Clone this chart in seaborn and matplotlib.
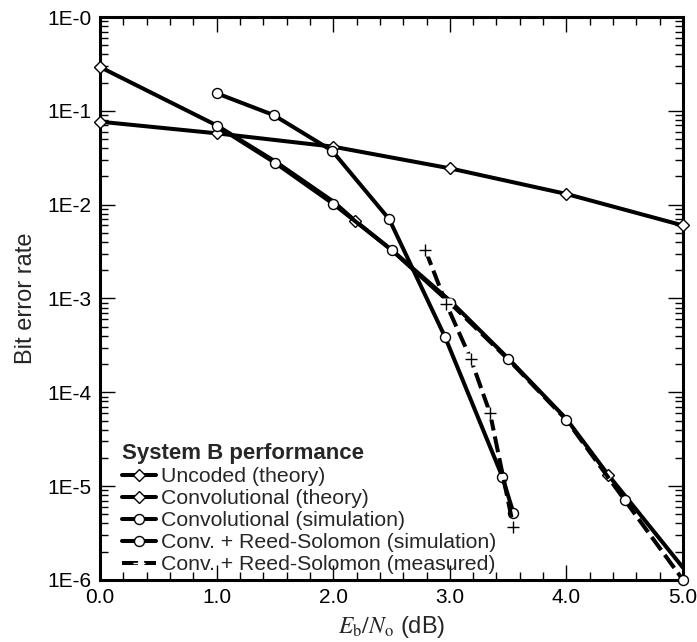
import matplotlib
matplotlib.use("Agg")
import matplotlib.pyplot as plt
import seaborn as sns
from matplotlib.ticker import FixedLocator, FixedFormatter, MultipleLocator, LogLocator, NullFormatter

# Eb/No (dB) and bit error rate for each curve
ebno_uncoded = [0.0, 1.0, 2.0, 3.0, 4.0, 5.0]
ber_uncoded = [0.0766, 0.0576, 0.0415, 0.0244, 0.0130, 0.0060]

ebno_conv_theory = [0.0, 1.0, 1.5, 2.0, 2.19, 2.5, 3.0, 3.5, 4.0, 4.36, 5.0]
ber_conv_theory = [0.293, 0.070, 0.029, 0.0108, 6.7e-3, 3.3e-3, 9.5e-4, 2.3e-4, 5.2e-5, 1.31e-5, 1.35e-6]
conv_theory_marked = [0, 4, 9]

ebno_conv_sim = [1.0, 1.5, 2.0, 2.5, 3.0]
ber_conv_sim = [0.069, 0.028, 0.0102, 3.29e-3, 9.0e-4]
ebno_conv_sim_tail = [3.0, 3.5, 4.0, 4.5, 5.0]
ber_conv_sim_tail = [9.0e-4, 2.25e-4, 5.07e-5, 7.1e-6, 1.0e-6]

ebno_rs_sim = [1.0, 1.49, 1.99, 2.48, 2.96, 3.45, 3.545]
ber_rs_sim = [0.154, 0.090, 0.0376, 7.0e-3, 3.86e-4, 1.26e-5, 5.2e-6]

ebno_rs_meas = [2.79, 2.97, 3.18, 3.345, 3.545]
ber_rs_meas = [3.29e-3, 8.7e-4, 2.26e-4, 5.97e-5, 3.7e-6]

y_ticks = [1e-6, 1e-5, 1e-4, 1e-3, 1e-2, 1e-1, 1e0]
y_tick_labels = ["1E-6", "1E-5", "1E-4", "1E-3", "1E-2", "1E-1", "1E-0"]
x_ticks = [0.0, 1.0, 2.0, 3.0, 4.0, 5.0]
x_tick_labels = ["0.0", "1.0", "2.0", "3.0", "4.0", "5.0"]

legend_title = "System B performance"
labels = ["Uncoded (theory)", "Convolutional (theory)", "Convolutional (simulation)",
          "Conv. + Reed-Solomon (simulation)", "Conv. + Reed-Solomon (measured)"]

sns.set_style("ticks")
plt.rcParams["font.family"] = ["Liberation Sans", "DejaVu Sans"]
plt.rcParams["mathtext.fontset"] = "stix"

fig = plt.figure(figsize=(6.97, 6.42), dpi=100)
ax = fig.add_axes([0.1435, 0.0966, 0.8365, 0.8769])

lw = 2.9
dash = (0, (4, 1.5))
common = dict(color="black", linewidth=lw, markerfacecolor="white",
              markeredgecolor="black", markeredgewidth=1.0, ax=ax, sort=False,
              clip_on=False)

sns.lineplot(x=ebno_uncoded, y=ber_uncoded, marker="D", markersize=6.2,
             label=labels[0], zorder=3, **common)
sns.lineplot(x=ebno_conv_theory, y=ber_conv_theory, marker="D", markersize=6.2,
             markevery=conv_theory_marked, label=labels[1], zorder=3, **common)
sns.lineplot(x=ebno_conv_sim, y=ber_conv_sim, marker="o", markersize=7.2,
             label=labels[2], zorder=4, **common)
sns.lineplot(x=ebno_conv_sim_tail, y=ber_conv_sim_tail, marker="o", markersize=7.2,
             linestyle=dash, zorder=4, **common)
sns.lineplot(x=ebno_rs_sim, y=ber_rs_sim, marker="o", markersize=7.2,
             label=labels[3], zorder=4, **common)
sns.lineplot(x=ebno_rs_meas, y=ber_rs_meas, color="black", linewidth=lw,
             linestyle=dash, ax=ax, sort=False, zorder=5,
             label=labels[4], marker="+", markersize=9, markeredgewidth=1.0)
# white knock-out behind the measured crosses, then the crosses on top
ax.plot(ebno_rs_meas, ber_rs_meas, linestyle="none", marker="s", markersize=8,
        markerfacecolor="white", markeredgecolor="none", zorder=6)
ax.plot(ebno_rs_meas, ber_rs_meas, linestyle="none", marker="+", markersize=9,
        markeredgecolor="black", markeredgewidth=1.0, zorder=7)

ax.set_yscale("log")
ax.set_xlim(0, 5)
ax.set_ylim(1e-6, 1)
ax.yaxis.set_major_locator(FixedLocator(y_ticks))
ax.yaxis.set_major_formatter(FixedFormatter(y_tick_labels))
ax.yaxis.set_minor_locator(LogLocator(base=10, subs=range(2, 10), numticks=20))
ax.yaxis.set_minor_formatter(NullFormatter())
ax.xaxis.set_major_locator(FixedLocator(x_ticks))
ax.xaxis.set_major_formatter(FixedFormatter(x_tick_labels))
ax.xaxis.set_minor_locator(MultipleLocator(0.2))

ax.tick_params(which="both", direction="in", top=True, right=True,
               width=1.0, color="black", labelsize=15, labelcolor="black")
ax.tick_params(which="major", length=11, pad=6)
ax.tick_params(which="minor", length=6)
for s in ax.spines.values():
    s.set_linewidth(2.2)
    s.set_color("black")

ax.set_ylabel("Bit error rate", fontsize=17)
ax.yaxis.set_label_coords(-0.108, 0.5)
ax.set_xlabel(r"$E_{\mathrm{b}}/N_{\mathrm{o}}$ (dB)", fontsize=17)
ax.xaxis.set_label_coords(0.5, -0.06)

leg = ax.legend(title=legend_title, loc="lower left", bbox_to_anchor=(0.037, 0.01),
                frameon=False, fontsize=15.3, handlelength=1.6, handletextpad=0.25,
                labelspacing=0.14, borderpad=0.0, borderaxespad=0.0)
leg.get_title().set_fontweight("bold")
leg.get_title().set_fontsize(16)
leg._legend_box.align = "left"

fig.savefig("out.png", dpi=100)
